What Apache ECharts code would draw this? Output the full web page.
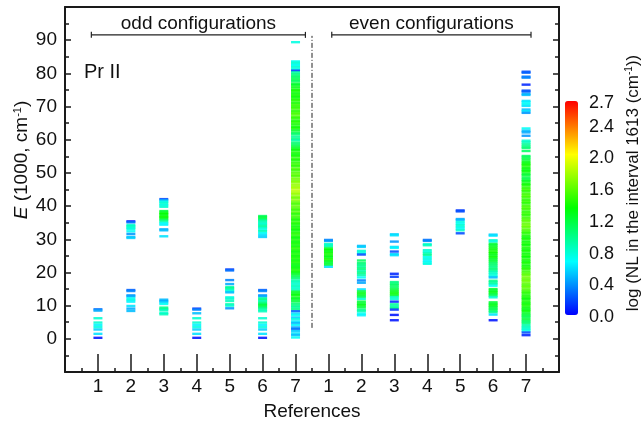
<!DOCTYPE html>
<html>
<head>
<meta charset="utf-8">
<script src="https://cdn.jsdelivr.net/npm/echarts@6/dist/echarts.min.js"></script>
<style>html,body{margin:0;padding:0;background:#fff}#c{width:644px;height:426px}</style>
</head>
<body>
<div id="c"></div>
<script>
// ---- data: [E (1000 cm^-1), log NL] per reference column ----
const X_LABELS = ['1','2','3','4','5','6','7','1','2','3','4','5','6','7'];
const COLOR_TICKS = [0.0, 0.4, 0.8, 1.2, 1.6, 2.0, 2.4, 2.7];

const ODD1 = [[8.9,0.3],[8.5,0.45],[6.2,0.8],[4.9,0.8],[4.2,0.65],[3.5,0.75],[2.8,0.55],[1.5,0.6],[0.3,0.05]];
const ODD2 = [[35.4,0.05],[35.1,0.3],[34.3,0.8],[33.9,0.85],[33.5,0.8],[33.1,0.75],[32.4,0.7],[31.6,0.4],[30.7,0.5],[30.4,0.55],
  [14.7,0.25],[14.4,0.35],[13.1,0.4],[12.8,0.45],[12.2,0.7],[11.7,0.75],[11.2,0.65],[9.9,0.6],[9.1,0.45],[8.4,0.5]];
const ODD3 = [[42.1,0.2],[41.7,0.5],[41.3,0.75],[40.8,0.8],[40.3,0.75],[39.8,0.8],[38.5,1.2],[38.0,1.3],[37.6,1.35],[37.1,1.3],[36.7,1.4],[36.3,1.3],[35.8,1.1],[35.3,0.9],[34.8,0.7],[34.4,0.65],[33.0,0.45],[32.7,0.5],[30.9,0.6],
  [11.8,0.5],[11.4,0.45],[11.0,0.55],[10.5,0.7],[9.4,1.0],[9.0,0.95],[8.6,0.85],[7.8,0.8],[7.4,0.85]];
const ODD4 = [[9.1,0.15],[8.8,0.35],[7.7,0.5],[6.2,0.8],[4.9,0.8],[4.2,0.65],[3.5,0.75],[2.8,0.55],[1.5,0.6],[0.3,0.05]];
const ODD5 = [[20.9,0.15],[20.6,0.3],[17.7,0.35],[16.5,0.45],[15.6,0.9],[15.2,1.0],[14.8,0.85],[14.3,0.75],[14.0,0.5],[12.5,0.75],[12.1,0.8],[11.4,0.85],[10.4,0.9],[10.0,0.8],[9.2,0.4]];
const ODD6 = [[37.0,1.1],[36.6,1.2],[36.2,1.15],[35.8,1.0],[35.4,0.9],[35.0,0.85],[34.6,0.8],[34.2,0.85],[33.8,0.95],[33.4,0.8],[32.9,0.75],[32.4,0.9],[31.9,0.7],[31.3,0.6],[30.7,0.55],
  [14.7,0.25],[14.4,0.35],[13.1,0.4],[12.8,0.45],[12.2,0.9],[11.8,1.0],[11.3,0.85],[10.9,1.0],[10.5,1.1],[10.1,1.2],[9.7,1.15],[9.3,1.0],[8.8,0.9],[8.3,0.85],[6.2,0.8],[4.9,0.8],[4.2,0.65],[3.5,0.75],[2.8,0.55],[1.5,0.6],[0.3,0.05]];
const ODD7 = [[89.4,0.75],
  [83.6,0.7],[83.2,0.8],[82.7,0.75],[82.4,0.7],[81.9,0.8],[81.3,0.75],[80.8,0.15],[80.3,0.9],[79.8,1.0],[79.2,1.05],
  [78.7,1.1],[78.1,1.15],[77.6,1.1],[76.9,1.2],[76.5,1.25],[75.8,1.3],[75.1,1.35],[74.7,1.4],[74.0,1.35],[73.4,1.4],[72.9,1.35],[72.2,1.4],[71.8,1.45],[71.1,1.4],[70.5,1.5],[69.9,1.45],[69.4,1.5],[68.7,1.45],[68.1,1.5],[67.6,1.55],[66.9,1.5],[66.4,1.45],[65.7,1.4],[65.2,1.45],[64.6,1.4],[63.9,1.35],[63.4,1.4],[62.8,1.25],
  [62.1,1.15],[61.6,1.05],[60.9,0.95],[60.2,1.0],[59.8,0.9],[59.1,1.05],[58.5,1.1],[57.9,1.2],
  [57.3,1.3],[56.8,1.35],[56.1,1.4],[55.5,1.35],[55.0,1.4],[54.3,1.45],[53.8,1.4],[53.1,1.45],[52.5,1.5],[52.0,1.45],[51.3,1.55],[50.8,1.5],[50.1,1.55],[49.5,1.6],[49.0,1.55],[48.3,1.65],[47.7,1.65],[47.2,1.7],[46.5,1.75],[45.9,1.75],[45.4,1.8],[44.7,1.85],[44.1,1.8],[43.6,1.75],[42.9,1.7],[42.4,1.65],[41.7,1.7],[41.1,1.6],[40.6,1.55],[39.9,1.6],[39.3,1.55],[38.8,1.5],[38.1,1.55],[37.6,1.45],[36.9,1.5],[36.3,1.45],[35.8,1.4],[35.1,1.45],[34.6,1.4],[33.9,1.35],[33.3,1.4],[32.8,1.35],[32.1,1.4],[31.6,1.45],[30.9,1.4],[30.4,1.35],[29.7,1.4],[29.1,1.35],[28.6,1.4],[27.9,1.35],[27.4,1.45],[26.7,1.4],[26.2,1.35],[25.5,1.4],[24.9,1.35],[24.4,1.4],[23.7,1.35],[23.2,1.4],[22.5,1.35],[21.9,1.3],[21.4,1.35],[20.7,1.4],[20.1,1.35],[19.6,1.25],[18.9,1.15],
  [18.3,1.05],[17.6,0.9],[17.1,0.85],[16.5,0.8],[15.9,0.85],[15.4,0.8],[14.8,0.85],
  [14.2,1.25],[13.6,1.3],[13.1,1.35],[12.4,1.3],[11.9,1.25],[11.3,1.2],[10.6,1.05],[10.0,1.0],[9.5,0.95],[8.9,1.0],[8.3,0.25],
  [7.6,0.6],[7.1,0.7],[6.4,0.55],[5.9,0.75],[5.2,0.6],[4.7,0.5],[4.1,0.65],[3.4,0.4],[2.9,0.3],[2.3,0.55],[1.6,0.6],[1.1,0.5],[0.4,0.7]];

const EVEN1 = [[29.8,0.35],[29.5,0.4],[28.6,0.85],[28.2,0.8],[27.8,0.9],[27.2,1.3],[26.7,1.35],[26.2,1.3],[25.7,1.4],[25.1,1.35],[24.6,1.3],[24.0,1.4],[23.4,1.3],[22.9,1.2],[22.3,1.25],[21.7,0.6]];
const EVEN2 = [[28.0,0.5],[27.7,0.55],[26.5,0.8],[25.9,0.75],[25.4,0.2],[23.6,1.1],[22.8,1.05],[22.3,1.0],[21.7,0.95],[21.1,1.05],[20.5,0.9],[19.9,1.0],[19.2,0.9],[18.5,0.7],[17.6,0.35],[16.9,0.45],
  [14.9,0.6],[14.3,1.2],[13.7,1.3],[13.1,1.25],[12.6,1.1],[12.0,0.8],[11.2,1.2],[10.6,1.25],[10.1,1.3],[9.5,1.2],[8.8,1.0],[8.3,0.9],[7.6,0.7],[7.1,0.65]];
const EVEN3 = [[31.5,0.55],[31.2,0.6],[29.3,0.4],[27.7,0.6],[27.4,0.65],[26.3,0.2],[25.5,0.55],[25.2,0.6],
  [19.6,0.1],[18.7,0.15],[17.1,1.0],[16.6,1.05],[16.1,1.1],[15.5,1.1],[14.9,1.2],[14.3,1.3],[13.7,1.35],[13.1,1.3],[12.6,0.85],[12.0,0.8],[11.2,0.1],[10.4,0.95],[9.8,0.9],[9.3,1.0],[8.8,0.15],[7.2,0.05],[5.6,0.05]];
const EVEN4 = [[29.8,0.3],[29.5,0.35],[28.5,0.8],[28.2,0.85],[26.7,0.8],[26.2,0.75],[25.7,0.9],[25.2,0.95],[24.6,0.7],[24.1,0.75],[23.5,0.65],[23.0,0.7],[22.6,0.75]];
const EVEN5 = [[38.7,0.15],[38.4,0.2],[36.1,0.45],[35.8,0.5],[35.2,0.75],[34.7,0.7],[34.2,0.8],[33.7,0.75],[33.2,0.7],[32.7,0.8],[31.8,0.2]];
const EVEN6 = [[31.4,0.55],[31.1,0.6],[29.7,0.8],[29.3,0.75],[28.6,1.2],[28.1,1.25],[27.5,1.3],[26.9,1.35],[26.3,1.4],[25.8,1.35],[25.2,1.3],[24.6,1.35],[24.0,1.25],[23.4,1.2],[22.8,1.1],[22.2,1.05],[21.6,1.0],[21.0,1.05],[20.5,0.95],[20.0,0.85],[19.5,0.8],[18.9,0.75],[18.5,0.5],[17.5,1.0],[17.0,0.95],[16.5,0.9],[16.0,0.7],[15.0,1.2],[14.5,1.25],[14.0,1.3],[13.5,1.2],[13.0,1.1],[12.5,0.8],[11.0,1.2],[10.5,1.25],[10.0,1.3],[9.5,1.2],[9.0,1.15],[8.5,1.1],[8.0,1.0],[7.3,0.6],[5.6,0.05]];
const EVEN7 = [[80.5,0.2],[80.2,0.25],[79.0,0.3],[78.7,0.35],[76.6,0.1],[74.8,0.2],[74.5,0.25],[73.8,0.45],[73.5,0.5],[71.7,0.6],[71.3,0.65],[70.7,0.7],[70.2,0.6],[69.1,0.5],[68.6,0.6],[68.1,0.4],
  [63.4,0.7],[62.7,0.5],[62.2,0.45],[61.2,0.4],[59.7,0.8],[59.2,0.85],[58.6,0.95],[58.0,1.0],[57.5,1.05],[56.6,1.1],[55.1,1.1],[54.6,1.15],[54.0,1.2],
  [53.3,1.3],[52.7,1.35],[52.2,1.4],[51.5,1.35],[50.9,1.3],[50.4,1.35],[49.7,1.25],[49.2,1.2],[48.5,1.15],[47.9,1.2],[47.4,1.3],[46.7,1.35],[46.2,1.4],[45.5,1.45],[44.9,1.5],[44.4,1.45],[43.7,1.5],[43.1,1.55],[42.6,1.5],[41.9,1.45],[41.3,1.5],[40.8,1.45],[40.1,1.5],[39.5,1.55],[39.0,1.5],[38.3,1.45],[37.7,1.5],[37.2,1.45],[36.5,1.5],[35.9,1.55],[35.4,1.6],[34.7,1.6],[34.1,1.65],[33.6,1.6],[32.9,1.55],[32.3,1.5],[31.8,1.45],[31.1,1.4],[30.5,1.35],[30.0,1.4],[29.3,1.35],[28.7,1.4],[28.2,1.35],[27.5,1.4],[26.9,1.35],[26.4,1.4],[25.7,1.35],[25.1,1.4],[24.6,1.35],[23.9,1.4],[23.3,1.35],[22.8,1.4],[22.1,1.35],[21.5,1.4],[21.0,1.45],[20.3,1.5],[19.7,1.55],[19.2,1.6],[18.5,1.65],[17.9,1.6],[17.4,1.65],[16.7,1.6],[16.1,1.55],[15.6,1.6],[14.9,1.55],[14.3,1.5],[13.8,1.45],[13.1,1.4],[12.5,1.4],[12.0,1.35],[11.3,1.4],[10.7,1.35],[10.2,1.4],[9.5,1.35],[8.9,1.3],[8.4,1.35],[7.7,1.25],[7.1,1.2],[6.6,1.15],[5.9,1.2],[5.3,1.1],[4.8,1.05],[4.1,0.9],[3.5,0.85],[3.0,0.8],[2.5,0.75],[1.9,0.2],[1.1,0.1]];

const COLUMNS = [ODD1, ODD2, ODD3, ODD4, ODD5, ODD6, ODD7, EVEN1, EVEN2, EVEN3, EVEN4, EVEN5, EVEN6, EVEN7];

// annotations in data units: [xStart, xEnd, E, label]
const BRACKETS = [[0.8, 7.3, 91.6, 'odd configurations'], [8.1, 14.15, 91.6, 'even configurations']];
const DIVIDER = [7.5, 3.3, 91.3]; // x, E from, E to

// ---- build ----
const levels = [];
COLUMNS.forEach((col, i) => col.forEach(p => levels.push([i + 1, p[0], p[1]])));

const FONT = 'Liberation Sans, Arial, Helvetica, sans-serif';
const chart = echarts.init(document.getElementById('c'), null, {renderer: 'canvas'});

const axisLineStyle = {color: '#1a1a1a', width: 2};
const tickStyle = {color: '#1a1a1a', width: 1.5};

const option = {
  animation: false,
  backgroundColor: '#fff',
  textStyle: {fontFamily: FONT},
  grid: [
    {left: 65, right: 85, top: 7, bottom: 54},
    {left: 565, width: 13, top: 103, height: 214}
  ],
  xAxis: [
    {
      type: 'value', gridIndex: 0, min: 0, max: 15, interval: 1, position: 'bottom',
      axisLine: {show: true, onZero: false, lineStyle: axisLineStyle},
      axisTick: {show: true, inside: true, length: 18, lineStyle: tickStyle},
      minorTick: {show: true, splitNumber: 2, length: 4, lineStyle: tickStyle},
      splitLine: {show: false},
      axisLabel: {
        margin: 5, fontSize: 19, color: '#111', fontFamily: FONT,
        formatter: v => (v >= 1 && v <= 14) ? X_LABELS[v - 1] : ''
      },
      name: 'References', nameLocation: 'middle', nameGap: 30,
      nameTextStyle: {fontSize: 19, color: '#111', fontFamily: FONT}
    },
    {
      type: 'value', gridIndex: 0, min: 0, max: 15, position: 'top',
      axisLine: {show: true, onZero: false, lineStyle: axisLineStyle},
      axisTick: {show: false}, axisLabel: {show: false}, splitLine: {show: false}
    },
    {type: 'value', gridIndex: 1, show: false, min: 0, max: 1}
  ],
  yAxis: [
    {
      type: 'value', gridIndex: 0, min: -10, max: 100, interval: 10,
      axisLine: {show: true, onZero: false, lineStyle: axisLineStyle},
      axisTick: {show: true, inside: true, length: 6, lineStyle: tickStyle},
      minorTick: {show: true, splitNumber: 2, length: 4, lineStyle: tickStyle},
      splitLine: {show: false},
      axisLabel: {
        margin: 8, fontSize: 19, color: '#111', fontFamily: FONT,
        formatter: v => (v >= 0 && v <= 90) ? String(v) : ''
      }
    },
    {
      type: 'value', gridIndex: 0, min: -10, max: 100, interval: 10, position: 'right',
      axisLine: {show: true, onZero: false, lineStyle: axisLineStyle},
      axisTick: {show: true, inside: true, length: 6, lineStyle: tickStyle},
      minorTick: {show: true, splitNumber: 2, length: 4, lineStyle: tickStyle},
      axisLabel: {show: false}, splitLine: {show: false}
    },
    {
      type: 'value', gridIndex: 1, min: 0, max: 2.7, interval: 0.4, position: 'right',
      axisLine: {show: false}, axisTick: {show: false}, splitLine: {show: false},
      axisLabel: {
        margin: 11, fontSize: 18, color: '#111', fontFamily: FONT, showMaxLabel: true,
        formatter: v => COLOR_TICKS.some(t => Math.abs(t - v) < 1e-6) ? v.toFixed(1) : ''
      }
    }
  ],
  visualMap: {
    type: 'continuous', min: 0, max: 2.7, dimension: 2, seriesIndex: 0,
    calculable: false, hoverLink: false, padding: 0,
    left: 565, top: 101, itemWidth: 13, itemHeight: 214,
    inRange: {color: ['#0000ff', '#00ffff', '#00ff00', '#ffff00', '#ff0000']},
    textStyle: {color: 'transparent'}
  },
  series: [
    {
      type: 'scatter', xAxisIndex: 0, yAxisIndex: 0,
      symbol: 'rect', symbolSize: [9, 2.4],
      itemStyle: {opacity: 0.88},
      data: levels, silent: true, z: 3
    },
    {
      type: 'custom', xAxisIndex: 0, yAxisIndex: 0, silent: true, z: 4,
      data: BRACKETS,
      renderItem: (params, api) => {
        const d = BRACKETS[params.dataIndex];
        const a = api.coord([d[0], d[2]]), b = api.coord([d[1], d[2]]);
        const t = api.coord([(d[0] + d[1]) / 2, d[2]]);
        const ls = {stroke: '#222', lineWidth: 1.2};
        const children = [
          {type: 'line', shape: {x1: a[0], y1: a[1], x2: b[0], y2: b[1]}, style: ls},
          {type: 'line', shape: {x1: a[0], y1: a[1] - 3, x2: a[0], y2: a[1] + 3}, style: ls},
          {type: 'line', shape: {x1: b[0], y1: b[1] - 3, x2: b[0], y2: b[1] + 3}, style: ls},
          {type: 'text', x: t[0], y: t[1] - 2, style: {text: d[3], fill: '#111', font: '19px ' + FONT, textAlign: 'center', textVerticalAlign: 'bottom'}}
        ];
        if (params.dataIndex === 0) {
          const p = api.coord([DIVIDER[0], DIVIDER[1]]), q = api.coord([DIVIDER[0], DIVIDER[2]]);
          children.push({type: 'line', shape: {x1: p[0], y1: p[1], x2: q[0], y2: q[1]}, style: {stroke: '#222', lineWidth: 1, lineDash: [5, 2, 1, 2]}});
        }
        return {type: 'group', children};
      }
    }
  ],
  graphic: [
    {type: 'text', left: 84, top: 62, style: {text: 'Pr II', font: '20px ' + FONT, fill: '#111'}},
    {
      type: 'text', x: 22, y: 160, rotation: Math.PI / 2,
      style: {
        text: '{i|E} (1000, cm{s|-1})', fill: '#111', font: '19px ' + FONT,
        align: 'center', verticalAlign: 'middle',
        rich: {
          i: {fontStyle: 'italic', fontSize: 19, fontFamily: FONT, fill: '#111'},
          s: {fontSize: 11, fontFamily: FONT, verticalAlign: 'top', fill: '#111'}
        }
      }
    },
    {
      type: 'text', x: 633, y: 183, rotation: Math.PI / 2,
      style: {
        text: 'log (NL in the interval 1613 (cm{s|-1}))', fill: '#111', font: '17px ' + FONT,
        align: 'center', verticalAlign: 'middle',
        rich: {
          s: {fontSize: 10, fontFamily: FONT, verticalAlign: 'top', fill: '#111'}
        }
      }
    }
  ]
};
chart.setOption(option);
</script>
</body>
</html>
